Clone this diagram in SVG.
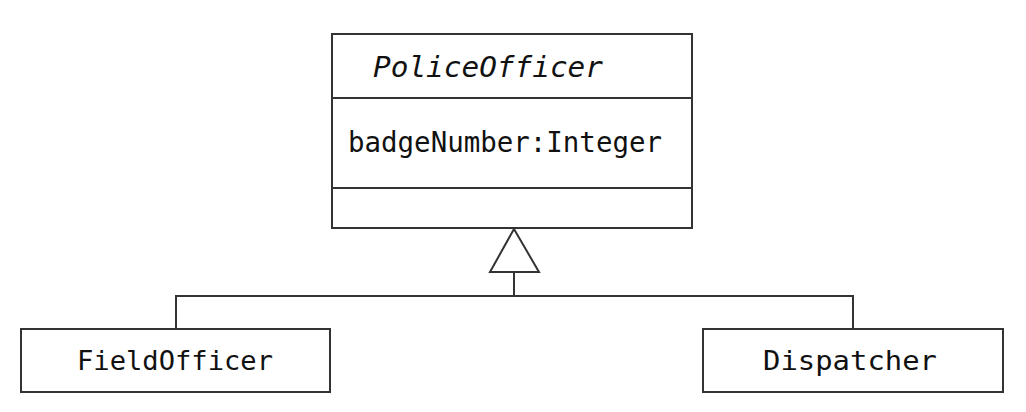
<svg xmlns="http://www.w3.org/2000/svg" width="1026" height="412" viewBox="0 0 1026 412">
<style>
.box{fill:#fff;stroke:#333;stroke-width:2}
.ln{fill:none;stroke:#333;stroke-width:2}
.t{font-family:"DejaVu Sans Mono","Liberation Mono",monospace;font-size:26px;fill:#111}
.big{font-size:28px}
.it{font-style:italic}
</style>
<rect width="1026" height="412" fill="#fff"/>
<g id="connectors">
<polyline class="ln" points="176,329 176,296 853,296 853,329"/>
<line class="ln" x1="514" y1="272" x2="514" y2="296"/>
<polygon class="box" points="514,229 490,272 539,272"/>
</g>
<g id="PoliceOfficer">
<rect class="box" x="332" y="34" width="360" height="194"/>
<line class="ln" x1="332" y1="98" x2="692" y2="98"/>
<line class="ln" x1="332" y1="188" x2="692" y2="188"/>
<text class="t big it" x="373" y="77" textLength="230" lengthAdjust="spacingAndGlyphs">PoliceOfficer</text>
<text class="t big" x="348" y="152" textLength="314" lengthAdjust="spacingAndGlyphs">badgeNumber:Integer</text>
</g>
<g id="FieldOfficer">
<rect class="box" x="21" y="329" width="309" height="63"/>
<text class="t" x="77" y="370" textLength="196" lengthAdjust="spacingAndGlyphs">FieldOfficer</text>
</g>
<g id="Dispatcher">
<rect class="box" x="703" y="329" width="300" height="63"/>
<text class="t" x="763" y="370" textLength="174" lengthAdjust="spacingAndGlyphs">Dispatcher</text>
</g>
</svg>
